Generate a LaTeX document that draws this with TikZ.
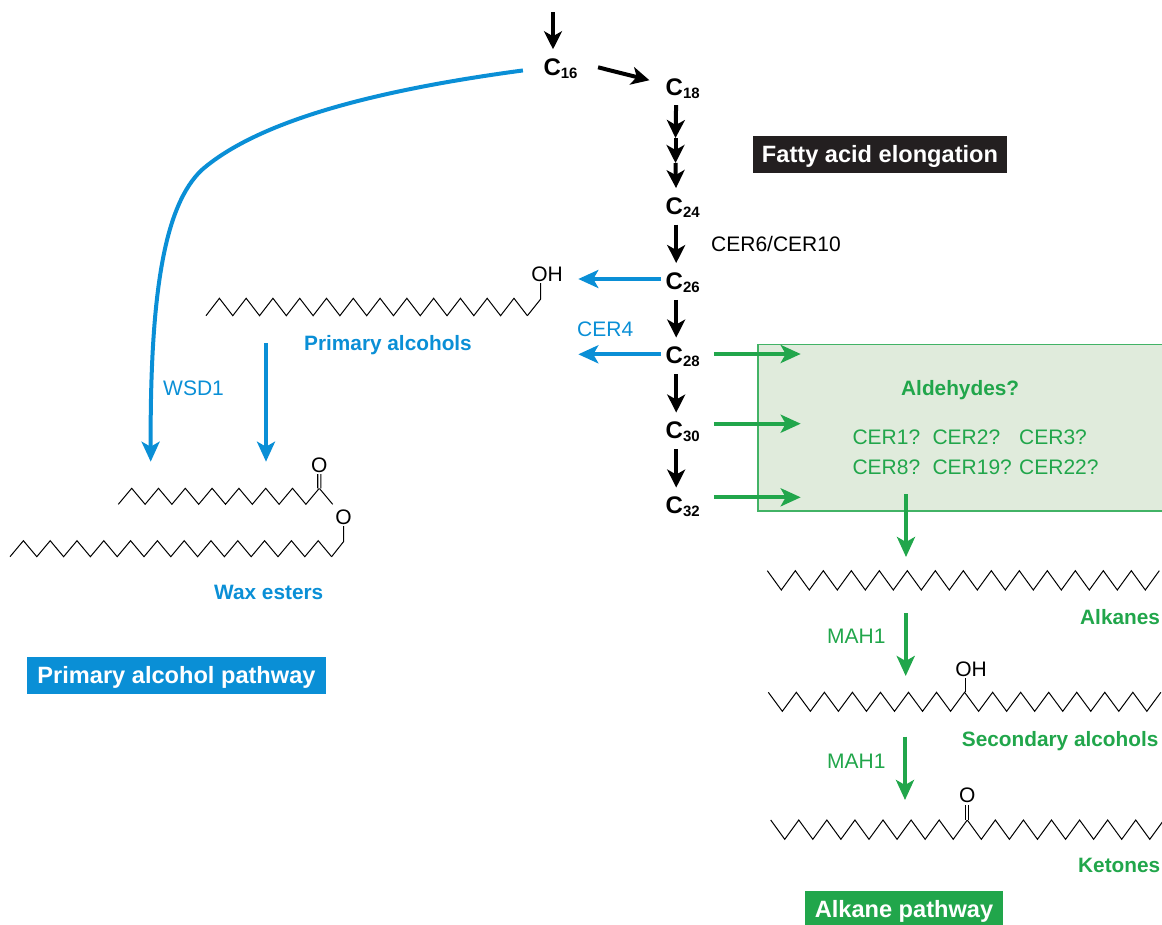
\documentclass[tikz,border=0pt]{standalone}
\usepackage{fontspec}
\setmainfont{Liberation Sans}
\usetikzlibrary{positioning,arrows.meta}
\definecolor{waxblue}{HTML}{0A8FD6}
\definecolor{alkgreen}{HTML}{21A64B}
\definecolor{boxgreen}{HTML}{E0EBDC}
\definecolor{boxblack}{HTML}{231F20}
\newcommand{\carbonlabel}[1]{C\raisebox{-3pt}{\fontsize{15}{15}\selectfont #1}}
\newcommand{\zigzag}[6]{\draw[bond] (#1,#2) \foreach \i in {1,...,#5}{ -- ({#1+\i*#4},{ifthenelse(isodd(\i),#3,#2)}) } coordinate (#6);}
\tikzset{
  carbon/.style={inner sep=0, anchor=base west, font=\fontsize{24}{28}\selectfont\bfseries},
  txt/.style={inner sep=0, anchor=base west, font=\fontsize{21}{25}\selectfont},
  boldtxt/.style={txt, font=\fontsize{20.8}{25}\selectfont\bfseries},
  atom/.style={inner sep=0, outer sep=2, anchor=base, font=\fontsize{21}{25}\selectfont},
  banner/.style={inner sep=0, text=white, text height=17pt, text depth=1pt, font=\fontsize{23.6}{28}\selectfont\bfseries},
  bond/.style={line width=1pt, black},
  elong/.style={line width=4pt, black, -{Stealth[length=18pt,width=18pt,inset=5pt]}},
  step16/.style={elong, shorten <=7.5pt, shorten >=9pt},
  waxarrow/.style={line width=4pt, waxblue, -{Stealth[length=20pt,width=18pt,inset=5pt]}},
  alkarrow/.style={line width=3.8pt, alkgreen, -{Stealth[length=20pt,width=18pt,inset=5pt]}},
}
\begin{document}
\begin{tikzpicture}[x=1pt,y=-1pt]
      \useasboundingbox (0,0) rectangle (1162,924);
      % Define nodes
      \node[draw=alkgreen!85!white, line width=1.4pt, fill=boxgreen, inner sep=0, anchor=north west,
            minimum width=410, minimum height=166.5] (aldbox) at (757.3,343.7) {};
      \node[carbon] (c16) at (543.3,75.5) {\carbonlabel{16}};
      \node[carbon] (c18) at (665.5,95.5) {\carbonlabel{18}};
      \node[carbon, below=118.5pt of c18.base west, anchor=base west] (c24) {\carbonlabel{24}};
      \node[carbon, below=75pt of c24.base west, anchor=base west] (c26) {\carbonlabel{26}};
      \node[carbon, below=74.5pt of c26.base west, anchor=base west] (c28) {\carbonlabel{28}};
      \node[carbon, below=75pt of c28.base west, anchor=base west] (c30) {\carbonlabel{30}};
      \node[carbon, below=74.5pt of c30.base west, anchor=base west] (c32) {\carbonlabel{32}};
      \node[txt] (cer6) at (711,251) {CER6/CER10};
      \node[txt, waxblue] (cer4) at (577,336) {CER4};
      \node[txt, waxblue] (wsd1) at (163,395) {WSD1};
      \node[boldtxt, waxblue] (palc) at (304,350) {Primary alcohols};
      \node[boldtxt, waxblue] (wax) at (214,599) {Wax esters};
      \node[boldtxt, alkgreen] (ald) at (901,395) {Aldehydes?};
      \node[txt, alkgreen] (cer1) at (852.3,444) {CER1?};
      \node[txt, alkgreen] (cer2) at (932.3,444) {CER2?};
      \node[txt, alkgreen] (cer3) at (1019,444) {CER3?};
      \node[txt, alkgreen] (cer8) at (852.3,474) {CER8?};
      \node[txt, alkgreen] (cer19) at (932.3,474) {CER19?};
      \node[txt, alkgreen] (cer22) at (1019,474) {CER22?};
      \node[boldtxt, alkgreen] (alk) at (1080,624) {Alkanes};
      \node[txt, alkgreen] (mah1) at (827,643) {MAH1};
      \node[txt, alkgreen] (mah2) at (827,768) {MAH1};
      \node[boldtxt, alkgreen] (sec) at (961.7,746.7) {Secondary alcohols};
      \node[boldtxt, alkgreen] (ket) at (1078,872) {Ketones};
      \node[banner, fill=boxblack, minimum width=254, minimum height=37] (fae) at (880,154.5) {Fatty acid elongation};
      \node[banner, fill=waxblue, minimum width=299, minimum height=37] (pap) at (176.5,675.5) {Primary alcohol pathway};
      \node[banner, fill=alkgreen, minimum width=198, minimum height=37] (akp) at (904,909.5) {Alkane pathway};
      \node[atom] (paoh) at (547,281) {OH};
      \node[atom] (estco) at (319.3,472) {O};
      \node[atom] (esto) at (343.5,524) {O};
      \node[atom] (secoh) at (971,676) {OH};
      \node[atom] (keto) at (967.3,802.7) {O};
      % Carbon chains
      \zigzag{206}{315.7}{298.3}{13.39}{24}{paend}
      \zigzag{118.3}{504.3}{488.3}{13.4}{15}{estc}
      \zigzag{10}{556.7}{540.7}{13.4}{24}{estend}
      \zigzag{767.3}{570.7}{590}{14}{28}{alkend}
      \zigzag{768.3}{692.3}{711.3}{14.02}{28}{secend}
      \zigzag{770.7}{820}{839.3}{14.04}{28}{ketend}
      \coordinate (pacarb) at (540.7,299);
      \coordinate (estcarb) at (343.5,541.7);
      \coordinate (secarb) at (965,692.3);
      \coordinate (kecarb) at (967.3,820);
      \draw[bond] (paend) -- (pacarb) -- (pacarb |- paoh.south);
      \draw[bond] (estc) -- ++(13.4,16);
      \draw[bond] (estend) -- (estcarb) -- (esto.south);
      \draw[bond] (secarb) -- (secarb |- secoh.south);
      \draw[bond, double, double distance=2pt, line width=1.1pt] (estc) -- (estco.south);
      \draw[bond, double, double distance=2pt, line width=1.1pt] (kecarb) -- (keto.south);
      % Connect nodes
      \coordinate (in16) at (553,12);
      \coordinate (c20) at (675.5,138);
      \coordinate (c22) at (675.5,163);
      \draw[elong, shorten >=9.3pt] (in16) -- (c16.north -| in16);
      \draw[elong, shorten <=21pt, shorten >=16.6pt] ([yshift=6.5pt]c16.east) -- ([yshift=4.4pt]c18.west);
      \draw[elong, shorten <=6.2pt] ([xshift=-6.5pt]c18.south) -- (c20);
      \draw[elong] (c20) -- (c22);
      \draw[elong, shorten >=9pt] (c22) -- ([xshift=-6.5pt]c24.north);
      \draw[step16] ([xshift=-6.5pt]c24.south) -- ([xshift=-6.5pt]c26.north);
      \draw[step16] ([xshift=-6.5pt]c26.south) -- ([xshift=-6.5pt]c28.north);
      \draw[step16] ([xshift=-6.5pt]c28.south) -- ([xshift=-6.5pt]c30.north);
      \draw[step16, shorten >=8.5pt] ([xshift=-6.5pt]c30.south) -- ([xshift=-6.5pt]c32.north);
      % Primary alcohol branch
      \coordinate (pa1) at (578.3,279);
      \coordinate (pa2) at (578.3,354.3);
      \coordinate (est1) at (266,343.3);
      \coordinate (est2) at (266,461.7);
      \coordinate (est3) at (150.7,461.7);
      \draw[waxarrow, shorten <=5pt] (c26.west |- pa1) -- (pa1);
      \draw[waxarrow, shorten <=5pt] (c28.west |- pa2) -- (pa2);
      \draw[waxarrow] (est1) -- (est2);
      \draw[waxarrow, shorten <=20.6pt] ([yshift=1pt]c16.west) .. controls (400,87) and (265,115) .. (201.7,170)
            .. controls (165,205) and (150,290) .. (est3);
      % Alkane branch
      \coordinate (ald1) at (800.7,354);
      \coordinate (ald2) at (800.7,423.7);
      \coordinate (ald3) at (800.7,497.3);
      \coordinate (alk1) at (906,494);
      \coordinate (alk2) at (906,557);
      \coordinate (sec1) at (905.7,613);
      \coordinate (sec2) at (905.7,676);
      \coordinate (ket1) at (905,736.7);
      \coordinate (ket2) at (905,800);
      \draw[alkarrow, shorten <=14pt] (c28.east |- ald1) -- (ald1);
      \draw[alkarrow, shorten <=14pt] (c30.east |- ald2) -- (ald2);
      \draw[alkarrow, shorten <=14pt] (c32.east |- ald3) -- (ald3);
      \draw[alkarrow] (alk1) -- (alk2);
      \draw[alkarrow] (sec1) -- (sec2);
      \draw[alkarrow] (ket1) -- (ket2);
    \end{tikzpicture}
\end{document}
